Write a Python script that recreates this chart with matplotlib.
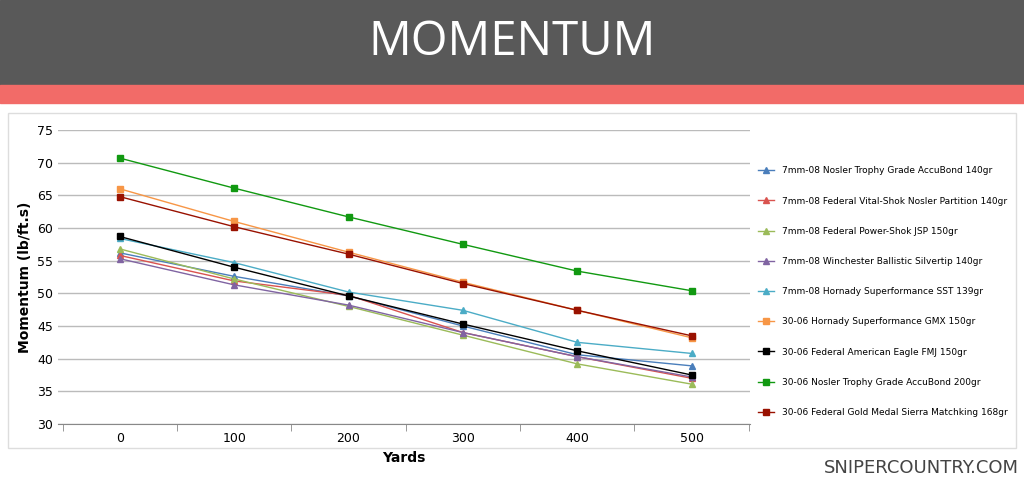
import matplotlib
matplotlib.use("Agg")
import matplotlib.pyplot as plt

yards = [0, 100, 200, 300, 400, 500]
labels = ["7mm-08 Nosler Trophy Grade AccuBond 140gr",
          "7mm-08 Federal Vital-Shok Nosler Partition 140gr",
          "7mm-08 Federal Power-Shok JSP 150gr",
          "7mm-08 Winchester Ballistic Silvertip 140gr",
          "7mm-08 Hornady Superformance SST 139gr",
          "30-06 Hornady Superformance GMX 150gr",
          "30-06 Federal American Eagle FMJ 150gr",
          "30-06 Nosler Trophy Grade AccuBond 200gr",
          "30-06 Federal Gold Medal Sierra Matchking 168gr"]
accubond140 = [56.2, 52.6, 49.6, 45.0, 40.6, 38.9]
partition140 = [55.8, 51.9, 49.7, 44.0, 40.3, 37.0]
jsp150 = [56.8, 52.2, 48.0, 43.6, 39.2, 36.1]
silvertip140 = [55.3, 51.3, 48.2, 44.0, 40.3, 37.2]
sst139 = [58.4, 54.7, 50.2, 47.4, 42.5, 40.8]
gmx150 = [66.0, 61.0, 56.3, 51.7, 47.4, 43.2]
fmj150 = [58.7, 54.0, 49.6, 45.3, 41.2, 37.5]
accubond200 = [70.7, 66.1, 61.7, 57.5, 53.4, 50.4]
matchking168 = [64.8, 60.2, 56.0, 51.5, 47.4, 43.5]

series = [accubond140, partition140, jsp150, silvertip140, sst139, gmx150, fmj150, accubond200, matchking168]
colors = ["#4a7ebb", "#d9534f", "#9bbb59", "#8064a2", "#4bacc6", "#f79646", "#000000", "#119911", "#991100"]
markers = ["^", "^", "^", "^", "^", "s", "s", "s", "s"]

fig = plt.figure(figsize=(10.24, 4.86), dpi=100)
fig.patches.append(plt.Rectangle((0, 1-85/486), 1, 85/486, transform=fig.transFigure, color="#595959", zorder=-2))
fig.patches.append(plt.Rectangle((0, 1-103/486), 1, 18/486, transform=fig.transFigure, color="#f26b68", zorder=-1))
fig.patches.append(plt.Rectangle((8/1024, 1-448/486), 1008/1024, (448-113)/486, transform=fig.transFigure,
                                 facecolor="none", edgecolor="#dddddd", linewidth=1, zorder=-1))
fig.text(0.5, 1-42/486, "MOMENTUM", color="white", fontsize=34, ha="center", va="center", family="Open Sans")
fig.text(0.995, 1-468/486, "SNIPERCOUNTRY.COM", color="#444444", fontsize=13, ha="right", va="center")

ax = fig.add_axes([58/1024, 1-424/486, (750-58)/1024, (424-130)/486])
for s, c, m, l in zip(series, colors, markers, labels):
    ax.plot(yards, s, color=c, marker=m, markersize=5, linewidth=1, label=l)
ax.set_xlim(-54, 551)
ax.set_ylim(30, 75)
ax.set_xticks(yards)
ax.set_xticks([-50, 50, 150, 250, 350, 450, 550], minor=True)
ax.set_yticks(range(30, 76, 5))
ax.grid(axis="y", color="#bbbbbb", linewidth=1)
ax.set_axisbelow(True)
for sp in ["top", "right", "left"]:
    ax.spines[sp].set_visible(False)
ax.spines["bottom"].set_color("#888888")
ax.tick_params(axis="y", length=0, labelsize=9)
ax.tick_params(axis="x", which="major", labelsize=9, length=0, pad=6)
ax.tick_params(axis="x", which="minor", length=5, color="#888888")
ax.set_xlabel("Yards", fontsize=10, fontweight="bold")
ax.set_ylabel("Momentum (lb/ft.s)", fontsize=10, fontweight="bold")
ax.legend(loc="center left", bbox_to_anchor=(1.0, 0.45), frameon=False, fontsize=6.5, labelspacing=2.35,
          handlelength=1.8, borderaxespad=0.5)
fig.savefig("out.png", dpi=100)
